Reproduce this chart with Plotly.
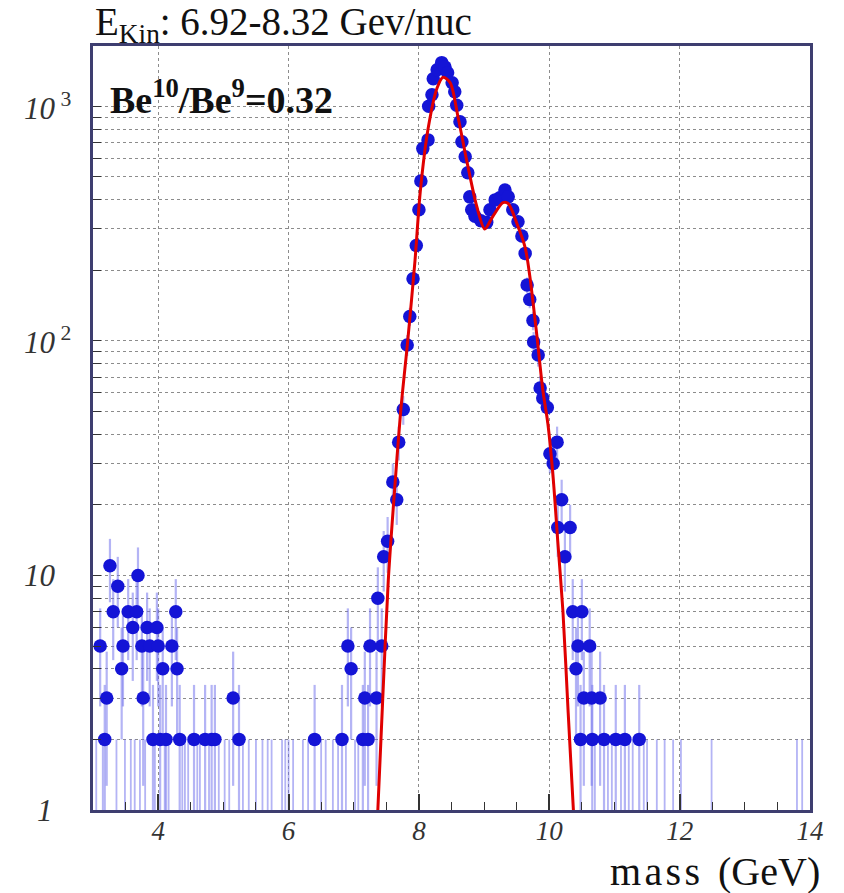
import numpy as np
import plotly.graph_objects as go

# Binned mass spectrum: bin centre (GeV) and entries per bin
mass = [3.11, 3.18, 3.21, 3.26, 3.31, 3.38, 3.44, 3.46, 3.54, 3.61, 3.67, 3.69,
        3.75, 3.77, 3.83, 3.87, 3.92, 3.98, 4.00, 4.03, 4.07, 4.12, 4.21, 4.27,
        4.29, 4.33, 4.55, 4.72, 4.82, 4.87, 5.15, 5.24,
        6.40, 6.82, 6.91, 6.96, 7.14, 7.17, 7.22, 7.25, 7.35, 7.37, 7.43, 7.46,
        7.52, 7.60, 7.66, 7.69, 7.76, 7.82, 7.86, 7.91, 7.96, 8.00, 8.03, 8.06,
        8.14, 8.15, 8.20, 8.22, 8.28, 8.35, 8.40, 8.44, 8.51, 8.55, 8.58, 8.63,
        8.66, 8.71, 8.75, 8.78, 8.81, 8.86, 8.95, 9.04, 9.09, 9.17, 9.24, 9.32,
        9.37, 9.44, 9.52, 9.58, 9.63, 9.66, 9.70, 9.75, 9.76, 9.83, 9.86, 9.90,
        9.97, 10.01, 10.06, 10.12, 10.13, 10.19, 10.24, 10.32, 10.36, 10.41,
        10.44, 10.48, 10.50, 10.53, 10.62, 10.65, 10.66, 10.78, 10.84, 11.02,
        11.16, 11.38]
counts = [5, 2, 3, 11, 7, 9, 4, 5, 7, 6, 7, 10,
          5, 3, 6, 5, 2, 6, 5, 2, 4, 2, 5, 7,
          4, 2, 2, 2, 2, 2, 3, 2,
          2, 2, 5, 4, 2, 3, 2, 5, 3, 8, 5, 12,
          14, 25, 21, 37, 51, 96, 127, 184, 255, 362, 480, 660,
          719, 1000, 1120, 1310, 1432, 1535, 1470, 1390, 1260, 1154, 1010, 859,
          706, 609, 521, 411, 362, 340, 325, 320, 362, 399, 407, 440,
          411, 362, 322, 280, 236, 173, 150, 122, 99, 87, 63, 57,
          52, 33, 30, 37, 16, 21, 12, 16, 7, 4,
          5, 2, 7, 3, 5, 3, 2, 3, 2, 2,
          2, 2]

# Bins holding a single entry (marker sits on the lower edge of the log axis)
mass_single = [3.05, 3.15, 3.36, 3.49, 3.58, 3.64, 3.72, 3.80, 3.95, 4.10, 4.16,
               4.37, 4.41, 4.46, 4.60, 4.64, 4.78, 4.93, 5.02, 5.09, 5.30, 5.39,
               5.50, 5.60, 5.68, 5.74, 5.90, 5.95, 6.00, 6.07, 6.22, 6.30, 6.50,
               6.57, 6.68, 6.76, 6.88, 7.02, 7.07, 10.70, 10.90, 10.96, 11.10,
               11.22, 11.28, 11.45, 11.50, 11.65, 11.77, 11.90, 12.02, 12.49,
               13.80, 13.88]

# Two-component (Be9 + Be10) fit curve
fit_mass = [7.37, 7.45, 7.53, 7.61, 7.72, 7.83, 7.94, 8.02, 8.14, 8.28, 8.37,
            8.48, 8.60, 8.74, 8.89, 9.01, 9.13, 9.29, 9.37, 9.50, 9.63, 9.70,
            9.81, 9.90, 9.98, 10.06, 10.13, 10.21, 10.29, 10.37]
fit_value = [1.0, 3.2, 9.5, 20, 50, 101, 220, 430, 800, 1200, 1330,
             1260, 900, 575, 372, 300, 338, 388, 385, 318, 250, 190,
             105, 62, 44, 26, 14, 7, 2.6, 1.0]

# Decade labels on the log axis
y_label_values = [1, 10, 100, 1000]
y_label_texts = ["<i>1</i>", "<i>10</i>", "<i>10</i><sup> 2</sup>", "<i>10</i><sup> 3</sup>"]
x_tick_values = [4, 6, 8, 10, 12, 14]

SERIF = "Liberation Serif, Times New Roman, serif"
FRAME = "#3e3e70"
GRID = "#8c8c8c"
ERR = "rgba(105,105,235,0.5)"

n = np.array(counts, dtype=float)
err = np.sqrt(n)

fig = go.Figure()

# single-entry bins: only the error bar is visible
fig.add_trace(go.Scatter(
    x=mass_single, y=[1] * len(mass_single), mode="markers",
    marker=dict(size=1, color="rgba(0,0,0,0)"),
    error_y=dict(type="data", array=[1.0] * len(mass_single),
                 arrayminus=[0.999] * len(mass_single),
                 color=ERR, thickness=1.8, width=0),
    hoverinfo="skip"))

fig.add_trace(go.Scatter(
    x=mass, y=counts, mode="markers",
    marker=dict(size=13.5, color="#1414d6", line=dict(width=0)),
    error_y=dict(type="data", array=err, arrayminus=np.minimum(err, n * 0.999),
                 color=ERR, thickness=2.2, width=0)))

fig.add_trace(go.Scatter(
    x=fit_mass, y=fit_value, mode="lines",
    line=dict(color="#e00000", width=3, shape="spline", smoothing=0.8)))

y_tickvals = [k * 10 ** d for d in range(4) for k in range(1, 10) if k * 10 ** d <= 1800]

fig.update_xaxes(
    range=[3, 14], tickvals=x_tick_values,
    ticktext=[f"<i>{v}</i>" for v in x_tick_values],
    tickfont=dict(family=SERIF, size=27, color="#333333"),
    ticks="inside", ticklen=16, tickwidth=1.5, tickcolor="#333333",
    minor=dict(dtick=0.5, tick0=3, ticks="inside", ticklen=8, tickwidth=1.2,
               tickcolor="#333333", showgrid=False),
    showgrid=True, gridcolor=GRID, griddash="dot", gridwidth=1,
    showline=True, linecolor=FRAME, linewidth=2.5, mirror=True,
    zeroline=False, ticklabelstandoff=-5)

fig.update_yaxes(
    type="log", range=[0, 3.257], tickvals=y_tickvals, showticklabels=False,
    ticks="inside", ticklen=8, tickwidth=1.2, tickcolor="#333333",
    showgrid=True, gridcolor=GRID, griddash="dot", gridwidth=1,
    showline=True, linecolor=FRAME, linewidth=2.5, mirror=True,
    zeroline=False)

annotations = []
label_x = [-0.081, -0.099, -0.099, -0.099]
for v, t, lx in zip(y_label_values, y_label_texts, label_x):
    annotations.append(dict(
        x=lx, xref="paper", y=np.log10(v), yref="y", text=t, showarrow=False,
        xanchor="left", yanchor="middle",
        font=dict(family=SERIF, size=31, color="#333333")))

annotations.append(dict(
    x=0, xref="paper", y=1, yref="paper", yanchor="bottom", xanchor="left",
    text="E<sub>Kin</sub>: 6.92-8.32 Gev/nuc", showarrow=False, yshift=-5,
    font=dict(family=SERIF, size=39, color="#111111")))

annotations.append(dict(
    x=0.021, xref="paper", y=0.933, yref="paper", xanchor="left", yanchor="middle",
    text="<b>Be<sup>10</sup>/Be<sup>9</sup>=0.32</b>", showarrow=False,
    font=dict(family=SERIF, size=38, color="#111111")))

annotations.append(dict(
    x=1, xref="paper", xshift=12, y=-0.081, yref="paper",
    xanchor="right", yanchor="middle",
    text="m\u200aa\u200as\u200as\u00a0\u2009(GeV)", showarrow=False,
    font=dict(family=SERIF, size=40, color="#111111")))

fig.update_layout(
    width=844, height=893,
    margin=dict(l=93, r=34, t=46, b=83),
    plot_bgcolor="white", paper_bgcolor="white",
    showlegend=False, annotations=annotations)

fig.write_html("out.html")
